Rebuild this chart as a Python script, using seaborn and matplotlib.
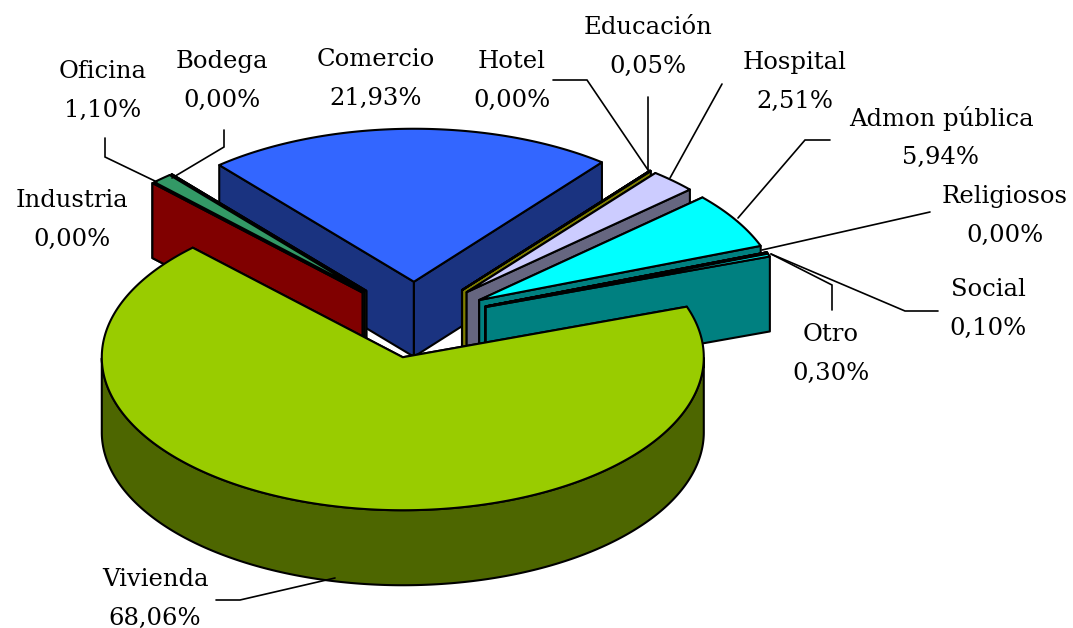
"""Exploded 3D pie of built area by use, drawn with matplotlib polygons on a seaborn theme."""

import numpy as np
import matplotlib
matplotlib.use("Agg")
import matplotlib.pyplot as plt
import seaborn as sns

# clockwise from Comercio
categories = ["Comercio", "Hotel", "Educación", "Hospital", "Admon pública", "Religiosos",
              "Social", "Otro", "Vivienda", "Industria", "Oficina", "Bodega"]
values = [21.93, 0.00, 0.05, 2.51, 5.94, 0.00, 0.10, 0.30, 68.06, 0.00, 1.10, 0.00]

top_colors = ["#3366FF", "#FFFF00", "#808000", "#CCCCFF", "#00FFFF", "#CCFFFF",
              "#008080", "#00FFFF", "#99CC00", "#FF0000", "#339966", "#FFCC00"]
side_colors = ["#1A3380", "#808000", "#808000", "#666680", "#008080", "#668080",
               "#004040", "#008080", "#4D6600", "#800000", "#1A4D33", "#806600"]

# painter's order, back to front
draw_order = ["Comercio", "Bodega", "Oficina", "Industria", "Hotel", "Educación", "Hospital",
              "Admon pública", "Religiosos", "Social", "Otro", "Vivienda"]

label_pos = {
    "Oficina": (103, 91), "Bodega": (222, 81), "Comercio": (376, 79), "Hotel": (512, 81),
    "Educación": (648, 47), "Hospital": (795, 82), "Admon pública": (941, 138),
    "Religiosos": (1005, 216), "Social": (988, 309), "Otro": (831, 354),
    "Industria": (72, 220), "Vivienda": (155, 599),
}
leaders = {
    "Oficina": [(105, 138), (105, 157), (157, 182)],
    "Bodega": [(224, 130), (224, 147), (172, 178)],
    "Hotel": [(553, 80), (587, 80), (648, 170)],
    "Educación": [(648, 97), (648, 170)],
    "Hospital": [(722, 84), (670, 178)],
    "Admon pública": [(830, 140), (805, 140), (738, 218)],
    "Religiosos": [(930, 212), (762, 250)],
    "Social": [(938, 311), (905, 311), (771, 254)],
    "Otro": [(832, 310), (832, 285), (771, 254)],
    "Vivienda": [(216, 600), (240, 600), (335, 578)],
}

CX, CY = 415, 320
RX, RY = 301, 153
DEPTH = 75
EXPLODE = 0.25
START = 130.3
LW = 1.5
LINE_GAP = 19.5
x_nudge = {"Vivienda": 5}


def rim(cx, cy, deg):
    rad = np.radians(deg)
    return cx + RX * np.cos(rad), cy - RY * np.sin(rad)


def draw_wedge(ax, a1, a2, top, side, nudge=0):
    """a1 > a2, going clockwise"""
    mid = (a1 + a2) / 2
    cx = CX + nudge + EXPLODE * RX * np.cos(np.radians(mid))
    cy = CY - EXPLODE * RY * np.sin(np.radians(mid))
    n = max(2, int(abs(a1 - a2)) * 2)
    angles = np.linspace(a1, a2, n)
    xs, ys = rim(cx, cy, angles)

    # cut faces
    for a in (a1, a2):
        x, y = rim(cx, cy, a)
        ax.fill([cx, x, x, cx], [cy, y, y + DEPTH, cy + DEPTH],
                facecolor=side, edgecolor="black", linewidth=LW, joinstyle="round")

    # outer face, only the part looking at the viewer
    front = np.sin(np.radians(angles)) <= 0
    if front.sum() > 1:
        fx, fy = xs[front], ys[front]
        ax.fill(np.r_[fx, fx[::-1]], np.r_[fy, fy[::-1] + DEPTH],
                facecolor=side, edgecolor="black", linewidth=LW, joinstyle="round")

    ax.fill(np.r_[cx, xs], np.r_[cy, ys], facecolor=top, edgecolor="black",
            linewidth=LW, joinstyle="round")


sns.set_theme(style="white")
plt.rcParams["font.family"] = ["DejaVu Serif"]

fig = plt.figure(figsize=(10.73, 6.28), dpi=100)
ax = fig.add_axes([0, 0, 1, 1])
ax.set_xlim(0, 1073)
ax.set_ylim(628, 0)
ax.axis("off")

# angle spans from the values
sweep = np.array(values) / sum(values) * 360
ends = START - np.cumsum(sweep)
starts = ends + sweep
spans = {c: (s, e) for c, s, e in zip(categories, starts, ends)}
tops = dict(zip(categories, top_colors))
sides = dict(zip(categories, side_colors))

for name in draw_order:
    a1, a2 = spans[name]
    draw_wedge(ax, a1, a2, tops[name], sides[name], x_nudge.get(name, 0))

for name, pts in leaders.items():
    px, py = zip(*pts)
    ax.plot(px, py, color="black", linewidth=1.2, solid_joinstyle="miter")

for name, value in zip(categories, values):
    x, y = label_pos[name]
    pct = f"{value:.2f}".replace(".", ",") + "%"
    ax.text(x, y - LINE_GAP, name, ha="center", va="center", fontsize=17.5, color="black")
    ax.text(x, y + LINE_GAP, pct, ha="center", va="center", fontsize=17.5, color="black")

fig.savefig("out.png", dpi=100)
